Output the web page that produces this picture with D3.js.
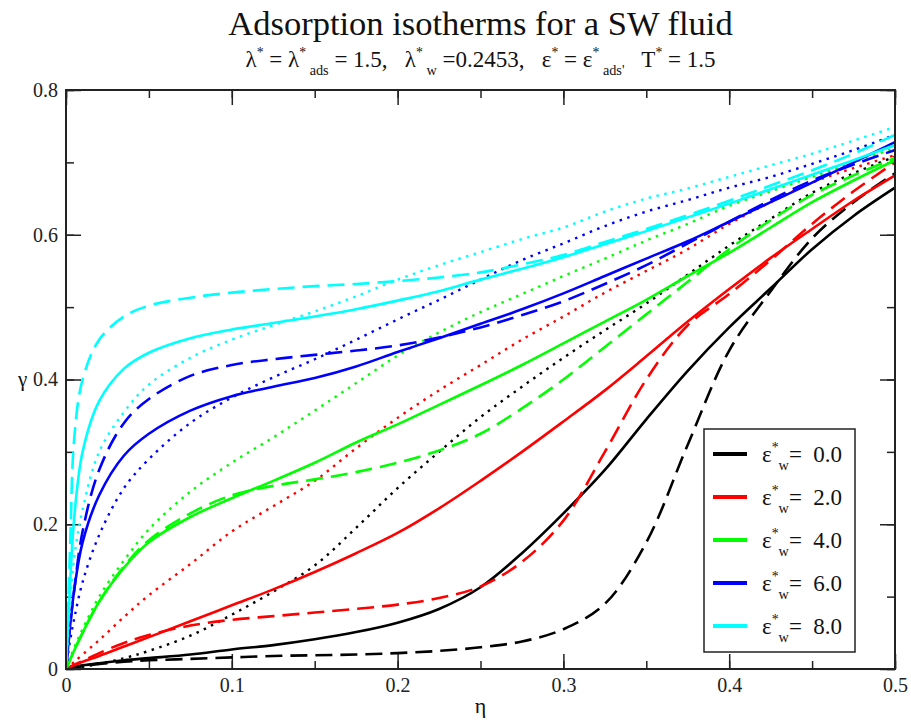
<!DOCTYPE html>
<html>
<head>
<meta charset="utf-8">
<script src="https://cdn.jsdelivr.net/npm/d3@7"></script>
<style>
  body { margin: 0; background: #fff; }
</style>
</head>
<body>
<div id="chart"></div>
<script>
// packing fraction grid shared by every curve
const eta = [0, 0.0025, 0.005, 0.01, 0.02, 0.035, 0.05, 0.075, 0.1, 0.125, 0.15, 0.175,
  0.2, 0.225, 0.25, 0.275, 0.3, 0.325, 0.35, 0.375, 0.4, 0.425, 0.45, 0.475, 0.5];

const epsW = ["0.0", "2.0", "4.0", "6.0", "8.0"];

// solid curves
const solidE0 = [0, 0.0015, 0.003, 0.005, 0.008, 0.012, 0.015, 0.02, 0.027, 0.033, 0.041, 0.051,
  0.064, 0.083, 0.113, 0.16, 0.215, 0.275, 0.345, 0.412, 0.472, 0.526, 0.58, 0.626, 0.665];
const solidE2 = [0, 0.003, 0.005, 0.01, 0.018, 0.031, 0.044, 0.066, 0.088, 0.11, 0.134, 0.16,
  0.188, 0.222, 0.26, 0.3, 0.342, 0.385, 0.432, 0.48, 0.525, 0.568, 0.608, 0.647, 0.682];
const solidE4 = [0, 0.013, 0.026, 0.05, 0.093, 0.14, 0.175, 0.21, 0.236, 0.26, 0.285, 0.313,
  0.338, 0.365, 0.392, 0.42, 0.45, 0.48, 0.51, 0.543, 0.575, 0.61, 0.645, 0.675, 0.703];
const solidE6 = [0, 0.06, 0.11, 0.175, 0.24, 0.295, 0.325, 0.357, 0.377, 0.39, 0.402, 0.418,
  0.438, 0.457, 0.477, 0.497, 0.519, 0.543, 0.567, 0.591, 0.618, 0.645, 0.672, 0.7, 0.728];
const solidE8 = [0, 0.12, 0.21, 0.3, 0.37, 0.415, 0.437, 0.457, 0.469, 0.478, 0.487, 0.497,
  0.509, 0.522, 0.538, 0.553, 0.569, 0.587, 0.605, 0.624, 0.643, 0.663, 0.683, 0.703, 0.724];

// dashed curves
const dashedE0 = [0, 0.001, 0.002, 0.004, 0.007, 0.01, 0.012, 0.014, 0.016, 0.018, 0.019, 0.02,
  0.022, 0.025, 0.03, 0.038, 0.055, 0.09, 0.175, 0.31, 0.44, 0.522, 0.595, 0.645, 0.685];
const dashedE2 = [0, 0.003, 0.006, 0.011, 0.022, 0.036, 0.047, 0.06, 0.068, 0.073, 0.078, 0.083,
  0.089, 0.098, 0.114, 0.148, 0.205, 0.3, 0.4, 0.475, 0.518, 0.565, 0.615, 0.66, 0.7];
const dashedE4 = [0, 0.013, 0.026, 0.05, 0.093, 0.142, 0.178, 0.215, 0.24, 0.253, 0.262, 0.272,
  0.285, 0.302, 0.325, 0.36, 0.4, 0.445, 0.49, 0.535, 0.58, 0.62, 0.655, 0.682, 0.706];
const dashedE6 = [0, 0.06, 0.11, 0.19, 0.275, 0.34, 0.373, 0.405, 0.42, 0.428, 0.434, 0.44,
  0.447, 0.458, 0.472, 0.489, 0.508, 0.532, 0.558, 0.588, 0.618, 0.648, 0.675, 0.697, 0.717];
const dashedE8 = [0, 0.17, 0.32, 0.4, 0.455, 0.487, 0.502, 0.513, 0.52, 0.525, 0.529, 0.532,
  0.536, 0.541, 0.548, 0.559, 0.572, 0.59, 0.608, 0.627, 0.647, 0.668, 0.689, 0.712, 0.738];

// dotted curves
const dottedE0 = [0, 0.0005, 0.001, 0.003, 0.007, 0.015, 0.025, 0.046, 0.075, 0.107, 0.143, 0.195,
  0.25, 0.3, 0.348, 0.39, 0.43, 0.468, 0.505, 0.545, 0.585, 0.622, 0.658, 0.685, 0.708];
const dottedE2 = [0, 0.005, 0.01, 0.02, 0.04, 0.072, 0.102, 0.145, 0.19, 0.225, 0.26, 0.305,
  0.347, 0.385, 0.42, 0.455, 0.487, 0.52, 0.55, 0.58, 0.615, 0.645, 0.672, 0.692, 0.71];
const dottedE4 = [0, 0.015, 0.03, 0.055, 0.1, 0.15, 0.193, 0.245, 0.285, 0.32, 0.357, 0.395,
  0.433, 0.465, 0.493, 0.518, 0.543, 0.567, 0.592, 0.615, 0.64, 0.66, 0.68, 0.7, 0.72];
const dottedE6 = [0, 0.04, 0.07, 0.12, 0.185, 0.25, 0.29, 0.34, 0.375, 0.403, 0.428, 0.455,
  0.483, 0.51, 0.538, 0.565, 0.588, 0.612, 0.632, 0.648, 0.665, 0.68, 0.698, 0.717, 0.738];
const dottedE8 = [0, 0.09, 0.155, 0.22, 0.3, 0.355, 0.393, 0.43, 0.455, 0.475, 0.494, 0.515,
  0.538, 0.558, 0.576, 0.594, 0.61, 0.632, 0.65, 0.664, 0.68, 0.696, 0.712, 0.73, 0.749];

const xTicks = [0, 0.1, 0.2, 0.3, 0.4, 0.5];
const yTicks = [0, 0.2, 0.4, 0.6, 0.8];

const colors = ["#000000", "#ff0000", "#00ff00", "#0000ff", "#00ffff"];
const dashes = {solid: null, dashed: "17,8", dotted: "2.5,5.5"};
const serif = "'Liberation Serif', 'DejaVu Serif', 'Times New Roman', serif";

const series = [];
const byStyle = {
  dotted: [dottedE0, dottedE2, dottedE4, dottedE6, dottedE8],
  dashed: [dashedE0, dashedE2, dashedE4, dashedE6, dashedE8],
  solid: [solidE0, solidE2, solidE4, solidE6, solidE8]
};
epsW.forEach((e, i) => {
  ["dotted", "dashed", "solid"].forEach(style => {
    series.push({eps: e, idx: i, style: style,
      values: eta.map((x, j) => ({x: x, y: byStyle[style][i][j]}))});
  });
});

// margin convention
const margin = {top: 90, right: 16, bottom: 52, left: 66};
const visWidth = 911 - margin.left - margin.right;
const visHeight = 721 - margin.top - margin.bottom;

const svg = d3.select("#chart").append("svg")
    .attr("width", visWidth + margin.left + margin.right)
    .attr("height", visHeight + margin.top + margin.bottom)
    .style("font-family", serif);

// title + subtitle
svg.append("text")
    .attr("x", margin.left + visWidth / 2)
    .attr("y", 35)
    .attr("text-anchor", "middle")
    .attr("font-size", 34.5)
    .attr("fill", "#111")
    .text("Adsorption isotherms for a SW fluid");

const subPieces = [
  ["λ", "n"], ["*", "sup"], [" = λ", "n"], ["*", "sup"], [" ads", "sub"],
  [" = 1.5,   λ", "n"], ["*", "sup"], [" w", "sub"], [" =0.2453,   ε", "n"], ["*", "sup"],
  [" = ε", "n"], ["*", "sup"], [" ads'", "sub"], ["   T", "n"], ["*", "sup"], [" = 1.5", "n"]
];

function richText(sel, pieces, size) {
  const shift = {n: 0, sup: -size * 0.42, sub: size * 0.36};
  const fsize = {n: size, sup: size * 0.6, sub: size * 0.62};
  let cur = 0;
  pieces.forEach(([t, k]) => {
    sel.append("tspan")
        .attr("dy", shift[k] - cur)
        .attr("font-size", fsize[k])
        .text(t);
    cur = shift[k];
  });
}

const sub = svg.append("text")
    .attr("x", margin.left + visWidth / 2)
    .attr("y", 67)
    .attr("text-anchor", "middle")
    .attr("fill", "#111")
    .style("white-space", "pre");
richText(sub, subPieces, 23);

const g = svg.append("g")
    .attr("transform", `translate(${margin.left}, ${margin.top})`);

// create scales
const x = d3.scaleLinear().domain([0, 0.5]).range([0, visWidth]);
const y = d3.scaleLinear().domain([0, 0.8]).range([visHeight, 0]);

g.append("clipPath")
    .attr("id", "plotclip")
  .append("rect")
    .attr("width", visWidth)
    .attr("height", visHeight);

// axes: inward ticks on all four sides, major + minor
const minorX = d3.range(0, 0.5001, 0.05);
const minorY = d3.range(0, 0.8001, 0.1);

function styleAxis(sel) {
  sel.attr("font-family", null);
  sel.select(".domain").remove();
  sel.selectAll("line").attr("stroke", "#222").attr("stroke-width", 1.5);
  sel.selectAll("text")
      .style("font-family", serif)
      .attr("font-size", 20)
      .attr("fill", "#222");
}

g.append("g")
    .attr("transform", `translate(0, ${visHeight})`)
    .call(d3.axisBottom(x).tickValues(minorX).tickSize(-8).tickFormat(""))
    .call(styleAxis);
g.append("g")
    .attr("transform", `translate(0, ${visHeight})`)
    .call(d3.axisBottom(x).tickValues(xTicks).tickSize(-15).tickPadding(9)
      .tickFormat(d => d === 0 ? "0" : d3.format(".1f")(d)))
    .call(styleAxis);
g.append("g")
    .call(d3.axisTop(x).tickValues(minorX).tickSize(-8).tickFormat(""))
    .call(styleAxis);
g.append("g")
    .call(d3.axisTop(x).tickValues(xTicks).tickSize(-15).tickFormat(""))
    .call(styleAxis);

g.append("g")
    .call(d3.axisLeft(y).tickValues(minorY).tickSize(-8).tickFormat(""))
    .call(styleAxis);
g.append("g")
    .call(d3.axisLeft(y).tickValues(yTicks).tickSize(-15).tickPadding(8)
      .tickFormat(d => d === 0 ? "0" : d3.format(".1f")(d)))
    .call(styleAxis);
g.append("g")
    .attr("transform", `translate(${visWidth}, 0)`)
    .call(d3.axisRight(y).tickValues(minorY).tickSize(-8).tickFormat(""))
    .call(styleAxis);
g.append("g")
    .attr("transform", `translate(${visWidth}, 0)`)
    .call(d3.axisRight(y).tickValues(yTicks).tickSize(-15).tickFormat(""))
    .call(styleAxis);

// axis titles
g.append("text")
    .attr("x", -48)
    .attr("y", y(0.4) + 6)
    .attr("font-size", 21)
    .attr("fill", "#111")
    .text("γ");
g.append("text")
    .attr("x", visWidth / 2)
    .attr("y", visHeight + 44)
    .attr("text-anchor", "middle")
    .attr("font-size", 22)
    .attr("fill", "#111")
    .text("η");

// draw curves
const line = d3.line()
    .x(d => x(d.x))
    .y(d => y(d.y))
    .curve(d3.curveCatmullRom.alpha(0.5));

g.append("g")
    .attr("clip-path", "url(#plotclip)")
  .selectAll("path")
  .data(series)
  .join("path")
    .attr("d", d => line(d.values))
    .attr("fill", "none")
    .attr("stroke", d => colors[d.idx])
    .attr("stroke-width", d => d.style === "dotted" ? 2.4 : 2.6)
    .attr("stroke-dasharray", d => dashes[d.style]);

// frame
g.append("rect")
    .attr("width", visWidth)
    .attr("height", visHeight)
    .attr("fill", "none")
    .attr("stroke", "#222")
    .attr("stroke-width", 2);

// legend
const legendX = 704 - margin.left;
const legendY = 429 - margin.top;
g.append("rect")
    .attr("x", legendX)
    .attr("y", legendY)
    .attr("width", 151)
    .attr("height", 223)
    .attr("fill", "#fff")
    .attr("stroke", "#222")
    .attr("stroke-width", 1.5);

const legend = g.append("g")
    .attr("transform", `translate(${legendX}, ${legendY})`)
  .selectAll("g")
  .data(epsW)
  .join("g")
    .attr("transform", (d, i) => `translate(0, ${25 + i * 43})`);

legend.append("line")
    .attr("x1", 9)
    .attr("x2", 43)
    .attr("stroke", (d, i) => colors[i])
    .attr("stroke-width", 4);

legend.append("text")
    .attr("x", 58)
    .attr("y", 8)
    .attr("fill", "#111")
    .style("white-space", "pre")
    .each(function(d) {
      richText(d3.select(this), [["ε", "n"], ["*", "sup"], ["w", "sub"], ["=  " + d, "n"]], 23);
    });
</script>
</body>
</html>
